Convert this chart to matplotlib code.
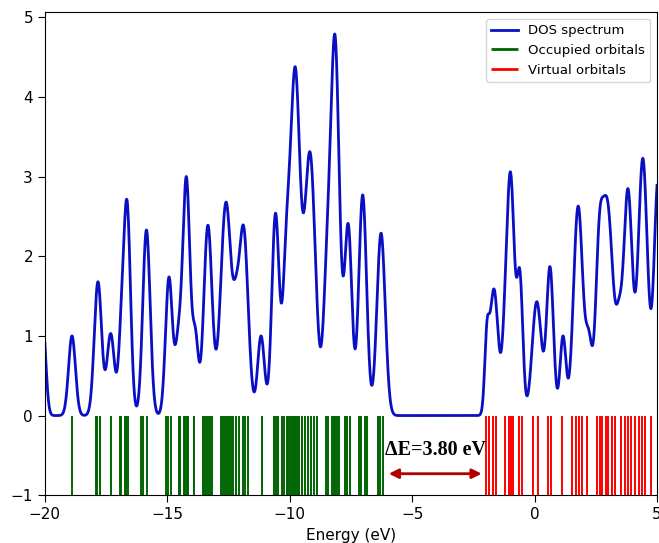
import matplotlib
matplotlib.use("Agg")
import matplotlib.pyplot as plt
import numpy as np

# orbital energies (eV)
occupied = [-18.87, -17.92, -17.85, -17.76, -17.28, -16.94, -16.87, -16.74, -16.67, -16.60,
            -16.06, -15.99, -15.81, -15.04, -14.97, -14.86, -14.52, -14.47, -14.32, -14.26,
            -14.20, -14.14, -13.91, -13.55, -13.48, -13.41, -13.33, -13.25, -13.18, -12.80,
            -12.73, -12.65, -12.57, -12.49, -12.41, -12.32, -12.19, -12.08, -11.92, -11.81,
            -11.71, -11.14, -10.66, -10.55, -10.46, -10.31, -10.22, -10.12, -10.05, -9.98,
            -9.92, -9.86, -9.80, -9.74, -9.68, -9.62, -9.50, -9.36, -9.25, -9.13,
            -9.00, -8.90, -8.52, -8.42, -8.27, -8.20, -8.13, -8.06, -7.99, -7.73,
            -7.64, -7.54, -7.16, -7.07, -6.91, -6.83, -6.41, -6.31, -6.18]
virtual = [-1.99, -1.85, -1.71, -1.56, -1.21, -1.04, -0.96, -0.88, -0.64, -0.50,
           -0.07, 0.15, 0.56, 0.69, 1.13, 1.51, 1.68, 1.80, 1.92, 2.15,
           2.56, 2.67, 2.76, 2.90, 3.00, 3.17, 3.30, 3.51, 3.71, 3.82,
           3.92, 4.12, 4.26, 4.37, 4.50, 4.77]

# DOS bands: centre (eV), height read at the centre, gaussian width (eV)
band_e = [-20.08, -18.89, -17.83, -17.31, -16.88, -16.64, -15.85, -14.93, -14.55, -14.22,
          -13.85, -13.34, -12.60, -12.20, -11.89, -11.17, -10.58, -10.15, -9.78, -9.17,
          -8.49, -8.15, -7.61, -7.02, -6.27,
          -1.95, -1.66, -1.20, -0.97, -0.60, 0.09, 0.63, 1.16, 1.78, 2.22,
          2.62, 2.96, 3.45, 3.81, 4.42, 5.05]
band_h = [1.15, 1.00, 1.68, 1.03, 1.45, 2.70, 2.33, 1.74, 1.15, 3.00,
          1.10, 2.39, 2.68, 1.75, 2.39, 1.00, 2.54, 2.38, 4.38, 3.31,
          2.24, 4.78, 2.41, 2.77, 2.29,
          1.17, 1.59, 1.75, 3.04, 1.83, 1.43, 1.87, 1.00, 2.63, 1.07,
          2.39, 2.73, 1.48, 2.85, 3.23, 3.00]
band_w = [0.12, 0.14, 0.15, 0.15, 0.12, 0.14, 0.15, 0.14, 0.13, 0.15,
          0.12, 0.17, 0.22, 0.12, 0.19, 0.14, 0.15, 0.14, 0.20, 0.22,
          0.15, 0.18, 0.15, 0.16, 0.17,
          0.09, 0.17, 0.13, 0.15, 0.12, 0.19, 0.14, 0.12, 0.19, 0.13,
          0.14, 0.25, 0.12, 0.18, 0.19, 0.17]

gap_label = "ΔE=3.80 eV"

c = np.array(band_e)
w = np.array(band_w)
G = np.exp(-(c[:, None] - c[None, :])**2 / (2 * w[None, :]**2))
amp = np.linalg.solve(G, np.array(band_h))

E = np.linspace(-20, 5, 3000)
dos = (amp[None, :] * np.exp(-(E[:, None] - c[None, :])**2 / (2 * w[None, :]**2))).sum(axis=1)

fig = plt.figure(figsize=(6.59, 5.43), dpi=100)
ax = fig.add_axes([0.068, 0.088, 0.929, 0.889])

ax.plot(E, dos, color='#0a0fc4', lw=2.0, label='DOS spectrum')
ax.vlines(occupied, -1, 0, color='#006400', lw=1.4, label='Occupied orbitals')
ax.vlines(virtual, -1, 0, color='#ff0000', lw=1.4, label='Virtual orbitals')

homo = max(occupied)
lumo = min(virtual)
ax.annotate('', xy=(lumo, -0.73), xytext=(homo, -0.73),
            arrowprops=dict(arrowstyle='<|-|>', color='#b00000', lw=2,
                            mutation_scale=14, shrinkA=4, shrinkB=3))
ax.text((homo + lumo) / 2 + 0.05, -0.43, gap_label, ha='center', va='center',
        fontsize=14.5, fontweight='bold', family='Liberation Serif')

ax.set_xlim(-20, 5)
ax.set_ylim(-1, 5.06)
ax.set_xticks([-20, -15, -10, -5, 0, 5])
ax.set_yticks(range(-1, 6))
ax.tick_params(labelsize=11, length=5)
ax.set_xlabel('Energy (eV)', fontsize=11)
leg = ax.legend(loc='upper right', fontsize=9.5, handlelength=2.0)
for h in leg.get_lines():
    h.set_linewidth(2.0)

fig.savefig('out.png', dpi=100)
